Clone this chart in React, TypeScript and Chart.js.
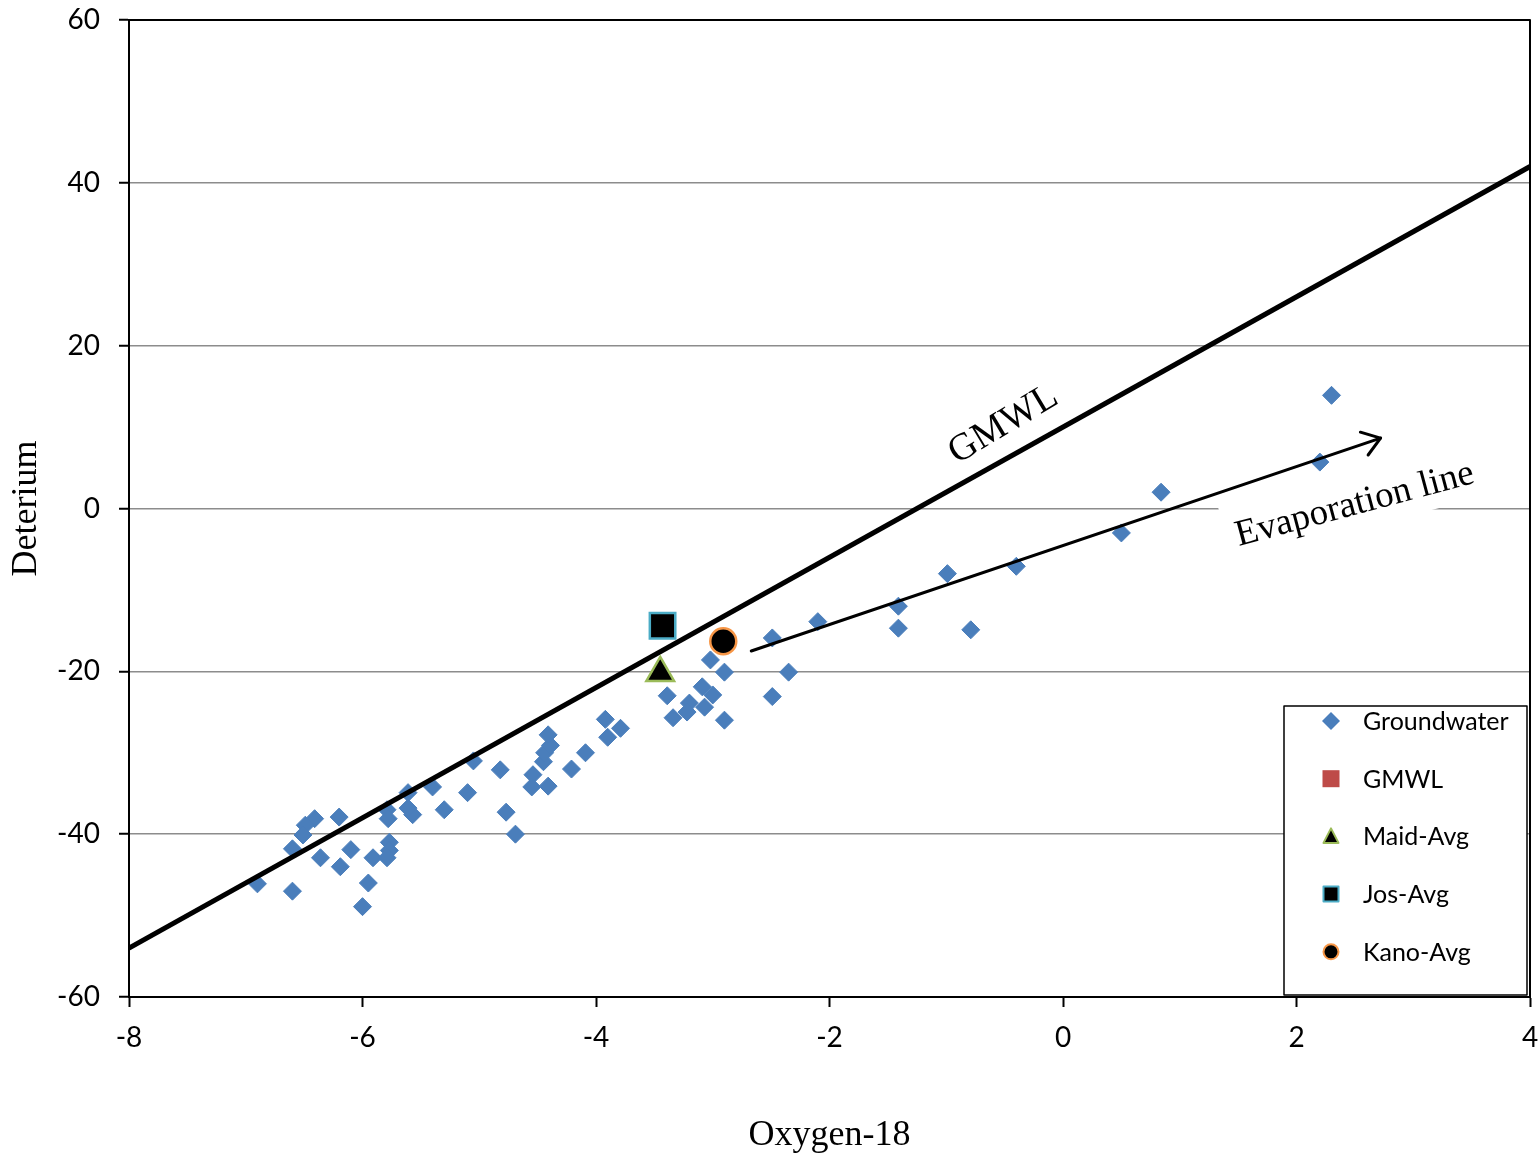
import React, { useEffect, useRef } from "react";
import { Chart, registerables } from "chart.js";

Chart.register(...registerables);

// Groundwater samples (Oxygen-18, Deterium)
const gwX = [
  -6.41, -6.49, -6.51, -6.2, -6.6, -6.36, -6.19, -6.1, -6.9, -6.6,
  -5.95, -6.0, -5.91, -5.79, -5.78, -5.77, -5.77, -5.79, -5.61, -5.57,
  -5.61, -5.4, -5.3, -5.05, -5.1, -4.82, -4.77, -4.69, -4.54, -4.55,
  -4.41, -4.45, -4.44, -4.39, -4.41, -4.21, -4.09, -3.92, -3.9, -3.79,
  -3.02, -2.9, -3.39, -3.09, -3.0, -3.2, -3.07, -3.22, -3.34, -2.9,
  -2.49, -2.49, -2.35, -2.1, -1.41, -1.41, -0.99, -0.79, -0.4, 0.5,
  0.84, 2.2, 2.3,
];
const gwY = [
  -38.1, -38.9, -40.1, -37.9, -41.8, -42.9, -44.0, -41.9, -46.1, -47.0,
  -46.0, -48.9, -42.9, -37.0, -38.1, -41.0, -42.0, -42.9, -34.9, -37.6,
  -36.8, -34.2, -37.0, -31.0, -34.9, -32.1, -37.3, -40.0, -32.7, -34.2,
  -34.1, -31.1, -30.0, -29.1, -27.8, -32.0, -30.0, -25.9, -28.1, -27.0,
  -18.6, -20.1, -23.0, -21.9, -22.9, -23.9, -24.4, -25.0, -25.7, -26.0,
  -15.9, -23.1, -20.1, -13.9, -12.0, -14.7, -8.0, -14.9, -7.1, -3.0,
  2.0, 5.7, 13.9,
];
// Global Meteoric Water Line end points
const gmwlX = [-8, 4];
const gmwlY = [-54, 42];
// Averages
const maidX = [-3.45];
const maidY = [-20.2];
const josX = [-3.43];
const josY = [-14.4];
const kanoX = [-2.91];
const kanoY = [-16.3];
// Evaporation line arrow (start, end)
const evapX = [-2.67, 2.72];
const evapY = [-17.5, 8.65];
// Text annotation anchors
const gmwlLabelX = -0.51;
const gmwlLabelY = 10.3;
const evapLabelX = 2.5;
const evapLabelY = 0.45;
// Ticks
const xTicks = [-8, -6, -4, -2, 0, 2, 4];
const yTicks = [-60, -40, -20, 0, 20, 40, 60];
const legendLabels = ["Groundwater", "GMWL", "Maid-Avg", "Jos-Avg", "Kano-Avg"];

const toPts = (xs: number[], ys: number[]) => xs.map((x, i) => ({ x, y: ys[i] }));

const BLUE = "#4a7ebb";
const RED = "#be4b48";
const GREEN = "#9bbb59";
const CYAN = "#4bacc6";
const ORANGE = "#f79646";

const EVAP_FONT = '37px "Liberation Serif"';
const GMWL_FONT = '38px "Liberation Serif"';

const annotPlugin = {
  id: "annot",
  beforeDatasetsDraw(chart: any) {
    const { ctx, scales } = chart;
    const x = scales.x;
    const y = scales.y;
    // white box behind "Evaporation line"
    ctx.save();
    ctx.font = EVAP_FONT;
    const w = ctx.measureText("Evaporation line").width;
    ctx.translate(x.getPixelForValue(evapLabelX), y.getPixelForValue(evapLabelY));
    ctx.rotate((-15 * Math.PI) / 180);
    ctx.fillStyle = "#ffffff";
    ctx.fillRect(-w / 2 - 10, -33, w + 20, 58);
    ctx.restore();
  },
  afterDatasetsDraw(chart: any) {
    const { ctx, scales, chartArea: ca } = chart;
    const x = scales.x;
    const y = scales.y;
    ctx.save();

    // Evaporation arrow
    const x0 = x.getPixelForValue(evapX[0]);
    const y0 = y.getPixelForValue(evapY[0]);
    const x1 = x.getPixelForValue(evapX[1]);
    const y1 = y.getPixelForValue(evapY[1]);
    ctx.strokeStyle = "#000";
    ctx.lineWidth = 3;
    ctx.lineCap = "round";
    ctx.lineJoin = "round";
    ctx.beginPath();
    ctx.moveTo(x0, y0);
    ctx.lineTo(x1, y1);
    ctx.stroke();
    const ang = Math.atan2(y1 - y0, x1 - x0);
    const arm = 21;
    const spread = (35 * Math.PI) / 180;
    ctx.beginPath();
    ctx.moveTo(x1 - arm * Math.cos(ang - spread), y1 - arm * Math.sin(ang - spread));
    ctx.lineTo(x1, y1);
    ctx.lineTo(x1 - arm * Math.cos(ang + spread), y1 - arm * Math.sin(ang + spread));
    ctx.stroke();

    // Text labels
    ctx.fillStyle = "#000";
    ctx.textAlign = "center";
    ctx.textBaseline = "middle";
    ctx.save();
    ctx.font = GMWL_FONT;
    ctx.translate(x.getPixelForValue(gmwlLabelX), y.getPixelForValue(gmwlLabelY));
    ctx.rotate((-31 * Math.PI) / 180);
    ctx.fillText("GMWL", 0, 0);
    ctx.restore();
    ctx.save();
    ctx.font = EVAP_FONT;
    ctx.translate(x.getPixelForValue(evapLabelX), y.getPixelForValue(evapLabelY));
    ctx.rotate((-15 * Math.PI) / 180);
    ctx.fillText("Evaporation line", 0, 0);
    ctx.restore();

    // plot area frame
    ctx.strokeStyle = "#000";
    ctx.lineWidth = 2;
    ctx.strokeRect(ca.left, ca.top, ca.right - ca.left, ca.bottom - ca.top);

    // Legend
    const lx = ca.right - 246;
    const ly = ca.top + 686;
    const lw = 243;
    const lh = ca.bottom - 2 - ly;
    ctx.fillStyle = "#fff";
    ctx.fillRect(lx, ly, lw, lh);
    ctx.strokeStyle = "#000";
    ctx.lineWidth = 1.5;
    ctx.strokeRect(lx, ly, lw, lh);
    const mx = lx + 47;
    const tx = lx + 79;
    const rowY = (i: number) => ly + 15 + i * 57.7;
    ctx.font = '25px "Lato"';
    ctx.textAlign = "left";
    ctx.textBaseline = "middle";
    legendLabels.forEach((lab, i) => {
      const cy = rowY(i);
      ctx.fillStyle = "#000";
      ctx.fillText(lab, tx, cy + 1);
    });
    // markers
    let cy = rowY(0);
    ctx.fillStyle = BLUE;
    ctx.beginPath();
    ctx.moveTo(mx, cy - 9);
    ctx.lineTo(mx + 9, cy);
    ctx.lineTo(mx, cy + 9);
    ctx.lineTo(mx - 9, cy);
    ctx.closePath();
    ctx.fill();
    cy = rowY(1);
    ctx.fillStyle = RED;
    ctx.fillRect(mx - 8.5, cy - 8.5, 17, 17);
    cy = rowY(2);
    ctx.fillStyle = "#000";
    ctx.strokeStyle = GREEN;
    ctx.lineWidth = 2;
    ctx.beginPath();
    ctx.moveTo(mx, cy - 8);
    ctx.lineTo(mx + 7.5, cy + 6.5);
    ctx.lineTo(mx - 7.5, cy + 6.5);
    ctx.closePath();
    ctx.fill();
    ctx.stroke();
    cy = rowY(3);
    ctx.strokeStyle = CYAN;
    ctx.fillRect(mx - 7.5, cy - 7.5, 15, 15);
    ctx.strokeRect(mx - 7.5, cy - 7.5, 15, 15);
    cy = rowY(4);
    ctx.strokeStyle = ORANGE;
    ctx.beginPath();
    ctx.arc(mx, cy, 7.5, 0, Math.PI * 2);
    ctx.fill();
    ctx.stroke();

    ctx.restore();
  },
};

export default function App() {
  const ref = useRef<HTMLCanvasElement | null>(null);
  useEffect(() => {
    const canvas = ref.current;
    if (!canvas) return;
    const chart = new Chart(canvas, {
      type: "scatter",
      data: {
        datasets: [
          {
            label: "Groundwater",
            data: toPts(gwX, gwY),
            pointStyle: "rectRot",
            pointRadius: 9,
            backgroundColor: BLUE,
            borderColor: BLUE,
            borderWidth: 1,
            order: 3,
          },
          {
            label: "GMWL",
            type: "line",
            data: toPts(gmwlX, gmwlY),
            showLine: true,
            borderColor: "#000",
            borderWidth: 5,
            pointRadius: 0,
            fill: false,
            order: 2,
          },
          {
            label: "Maid-Avg",
            data: toPts(maidX, maidY),
            pointStyle: "triangle",
            pointRadius: 16,
            backgroundColor: "#000",
            borderColor: GREEN,
            borderWidth: 2.5,
            order: 1,
          },
          {
            label: "Jos-Avg",
            data: toPts(josX, josY),
            pointStyle: "rect",
            pointRadius: 18,
            backgroundColor: "#000",
            borderColor: CYAN,
            borderWidth: 2.5,
            order: 1,
          },
          {
            label: "Kano-Avg",
            data: toPts(kanoX, kanoY),
            pointStyle: "circle",
            pointRadius: 13,
            backgroundColor: "#000",
            borderColor: ORANGE,
            borderWidth: 2.5,
            order: 1,
          },
        ] as any,
      },
      options: {
        responsive: false,
        animation: false,
        events: [],
        layout: { autoPadding: false, padding: { left: 0, right: 10, top: 20, bottom: 0 } },
        plugins: { legend: { display: false }, tooltip: { enabled: false } },
        scales: {
          x: {
            type: "linear",
            min: -8,
            max: 4,
            afterFit: (s: any) => {
              s.height = 160;
              s.paddingLeft = 0;
              s.paddingRight = 0;
            },
            afterBuildTicks: (s: any) => {
              s.ticks = xTicks.map((v) => ({ value: v }));
            },
            ticks: {
              font: { family: "Lato", size: 28 },
              color: "#000",
              padding: 14,
              maxRotation: 0,
            },
            grid: {
              drawOnChartArea: false,
              drawTicks: true,
              tickLength: 10,
              tickColor: "#000",
              tickWidth: 2,
            },
            border: { display: true, color: "#000", width: 2 },
            title: {
              display: true,
              text: "Oxygen-18",
              font: { family: "Liberation Serif", size: 36 },
              color: "#000",
              padding: { top: 0, bottom: 0 },
            },
          },
          y: {
            type: "linear",
            min: -60,
            max: 60,
            afterFit: (s: any) => {
              s.width = 129;
              s.paddingTop = 0;
              s.paddingBottom = 0;
            },
            afterBuildTicks: (s: any) => {
              s.ticks = yTicks.map((v) => ({ value: v }));
            },
            ticks: {
              font: { family: "Lato", size: 28 },
              color: "#000",
              padding: 19,
            },
            grid: {
              color: "#8c8c8c",
              lineWidth: 1.5,
              drawTicks: true,
              tickLength: 10,
              tickColor: "#000",
              tickWidth: 2,
            },
            border: { display: true, color: "#000", width: 2 },
            title: {
              display: true,
              text: "Deterium",
              font: { family: "Liberation Serif", size: 36 },
              color: "#000",
              padding: { top: 5, bottom: 0 },
            },
          },
        },
      } as any,
      plugins: [annotPlugin],
    });
    return () => chart.destroy();
  }, []);
  return (
    <div
      style={{
        position: "absolute",
        left: 0,
        top: 0,
        width: 1540,
        height: 1157,
        background: "#fff",
        overflow: "hidden",
      }}
    >
      <canvas ref={ref} width={1540} height={1157} style={{ display: "block" }} />
    </div>
  );
}
